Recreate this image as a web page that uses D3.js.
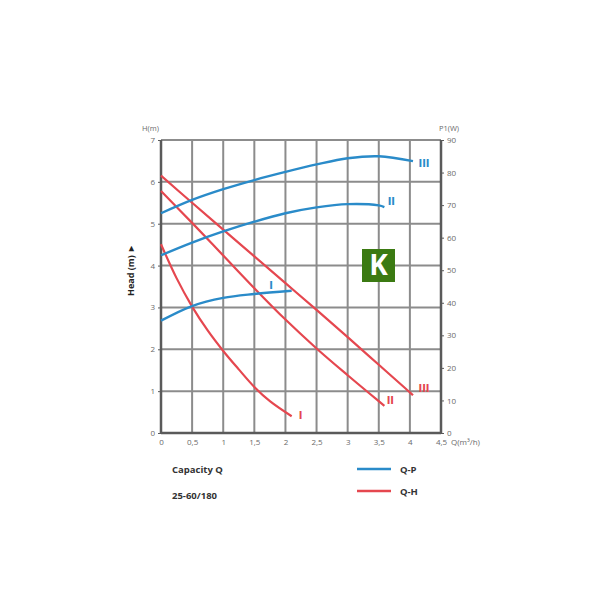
<!DOCTYPE html>
<html><head><meta charset="utf-8">
<script src="https://cdn.jsdelivr.net/npm/d3@7"></script>
<style>
html,body{margin:0;padding:0;background:#fff;}
text{font-family:"Open Sans",Lato,sans-serif;}
</style></head>
<body><svg id="c" width="600" height="600"></svg>
<script>
// ---- data ----
const qTicks = [0,0.5,1,1.5,2,2.5,3,3.5,4,4.5];
const qTickLabels = ["0","0,5","1","1,5","2","2,5","3","3,5","4","4,5"];
const hTicks = [0,1,2,3,4,5,6,7];
const pTicks = [0,10,20,30,40,50,60,70,80,90];

// Q-H curves (head, m)
const qhIQ = [0,0.25,0.5,0.75,1,1.25,1.5,1.75,2.1];
const qhIH = [4.51,3.70,3.02,2.45,1.96,1.52,1.10,0.76,0.40];
const qhIIQ = [0,0.5,1,1.5,2,2.5,3,3.5,3.59];
const qhIIH = [5.78,5.02,4.24,3.46,2.71,2.02,1.38,0.76,0.65];
const qhIIIQ = [0,0.5,1,1.5,2,2.5,3,3.5,4,4.05];
const qhIIIH = [6.15,5.50,4.86,4.22,3.58,2.94,2.29,1.63,0.97,0.90];

// Q-P curves (power, W)
const qpIQ = [0,0.5,1,1.5,2.1];
const qpIP = [34.5,39.0,41.5,42.7,43.7];
const qpIIQ = [0,0.5,1,1.5,2,2.5,3,3.5,3.59];
const qpIIP = [54.6,58.5,61.9,64.9,67.5,69.3,70.3,69.9,69.4];
const qpIIIQ = [0,0.5,1,1.5,2,2.5,3,3.5,4.05];
const qpIIIP = [67.5,71.6,74.9,77.7,80.2,82.5,84.4,85.0,83.5];

const speedNames = ["I","II","III"];
const legendNames = ["Q-P","Q-H"];

// ---- drawing ----
const BLUE = "#2a8bc9", RED = "#e5474f", GRID = "#8c8c8c", AX = "#5a5a5a", TXT = "#6a6a6a";
const svg = d3.select("#c");
const x = d3.scaleLinear().domain([0,4.5]).range([161,441]);
const yH = d3.scaleLinear().domain([0,7]).range([433,140]);
const yP = d3.scaleLinear().domain([0,90]).range([433,140]);

// grid
svg.append("g").selectAll("line").data(qTicks.filter(d=>d>0 && d<4.5)).join("line")
  .attr("x1",d=>x(d)).attr("x2",d=>x(d)).attr("y1",yH(7)).attr("y2",yH(0))
  .attr("stroke",GRID).attr("stroke-width",2);
svg.append("g").selectAll("line").data(hTicks.filter(d=>d>0)).join("line")
  .attr("x1",x(0)).attr("x2",x(4.5)).attr("y1",d=>yH(d)).attr("y2",d=>yH(d))
  .attr("stroke",GRID).attr("stroke-width",2);

// left axis
const left = svg.append("g").attr("transform",`translate(${x(0)},0)`)
  .call(d3.axisLeft(yH).tickValues(hTicks).tickSize(3).tickFormat(d3.format("d")));
// right axis
const right = svg.append("g").attr("transform",`translate(${x(4.5)},0)`)
  .call(d3.axisRight(yP).tickValues(pTicks).tickSize(3).tickFormat(d3.format("d")));
// bottom axis
const bottom = svg.append("g").attr("transform",`translate(0,${yH(0)})`)
  .call(d3.axisBottom(x).tickValues(qTicks).tickSize(0).tickFormat((d,i)=>qTickLabels[i]));
[left,right,bottom].forEach(g=>{
  g.select(".domain").attr("stroke",AX).attr("stroke-width",2.5);
  g.selectAll(".tick line").attr("stroke",AX).attr("stroke-width",1);
  g.selectAll("text").attr("fill",TXT).attr("font-size",8).style("font-family","'Open Sans',sans-serif");
});
bottom.selectAll("text").attr("dy","1.1em");
left.select(".domain").attr("d",`M0,${yH(7)}V${yH(0)}`);
right.select(".domain").attr("d",`M0,${yP(90)}V${yP(0)}`);
bottom.select(".domain").attr("d",`M${x(0)},0H${x(4.5)}`);

// axis units
svg.append("text").attr("x",x(0)-2).attr("y",yH(7)-9).attr("text-anchor","end")
  .attr("font-size",7.5).attr("fill",TXT).text("H(m)");
svg.append("text").attr("x",x(4.5)+8).attr("y",yH(7)-9).attr("text-anchor","middle")
  .attr("font-size",7.5).attr("fill",TXT).text("P1(W)");
svg.append("text").attr("x",x(4.5)+10).attr("y",yH(0)+12).attr("text-anchor","start")
  .attr("font-size",8).attr("fill",TXT).text("Q(m³/h)");

// y title
svg.append("text").attr("transform",`translate(134,270) rotate(-90)`)
  .attr("text-anchor","middle").attr("font-size",9).attr("font-weight","bold")
  .attr("fill","#222").text("Head (m) ►");

// curves
const lineH = d3.line().x(d=>x(d[0])).y(d=>yH(d[1])).curve(d3.curveCatmullRom.alpha(0.5));
const lineP = d3.line().x(d=>x(d[0])).y(d=>yP(d[1])).curve(d3.curveCatmullRom.alpha(0.5));
const zip = (a,b)=>a.map((v,i)=>[v,b[i]]);
const qhSets = [zip(qhIQ,qhIH),zip(qhIIQ,qhIIH),zip(qhIIIQ,qhIIIH)];
const qpSets = [zip(qpIQ,qpIP),zip(qpIIQ,qpIIP),zip(qpIIIQ,qpIIIP)];
qhSets.forEach(s=>svg.append("path").attr("d",lineH(s)).attr("fill","none")
  .attr("stroke",RED).attr("stroke-width",2.2));
qpSets.forEach(s=>svg.append("path").attr("d",lineP(s)).attr("fill","none")
  .attr("stroke",BLUE).attr("stroke-width",2.4));

// curve labels
const lab = (txt,px,py,col)=>svg.append("text").attr("x",px).attr("y",py)
  .attr("text-anchor","middle").attr("font-size",11).attr("font-weight","bold")
  .attr("fill",col).style("font-family","'DejaVu Sans Condensed','DejaVu Sans',sans-serif").text(txt);
{
  const e1 = qhSets[0][qhSets[0].length-1], e2 = qhSets[1][qhSets[1].length-1], e3 = qhSets[2][qhSets[2].length-1];
  lab(speedNames[0], x(e1[0])+9, yH(e1[1])+3, RED);
  lab(speedNames[1], x(e2[0])+6, yH(e2[1])-2, RED);
  lab(speedNames[2], x(e3[0])+11, yH(e3[1])-3, RED);
  const p2 = qpSets[1][qpSets[1].length-1], p3 = qpSets[2][qpSets[2].length-1];
  lab(speedNames[0], x(1.77), yH(3.44), BLUE);
  lab(speedNames[1], x(p2[0])+7, yP(p2[1])-2, BLUE);
  lab(speedNames[2], x(p3[0])+11, yP(p3[1])+6, BLUE);
}

// logo
svg.append("rect").attr("x",362).attr("y",249).attr("width",33).attr("height",33).attr("fill","#3b7a12");
svg.append("text").attr("x",378.5).attr("y",275).attr("text-anchor","middle")
  .attr("font-size",28).attr("font-weight","bold").attr("fill","#fff").text("K");

// bottom texts
svg.append("text").attr("x",172).attr("y",473).attr("font-size",9.5).attr("font-weight","bold")
  .attr("fill","#333").text("Capacity Q");
svg.append("text").attr("x",172).attr("y",499).attr("font-size",9.5).attr("font-weight","bold")
  .attr("fill","#333").text("25-60/180");

// legend
const legCols = [BLUE, RED];
legendNames.forEach((n,i)=>{
  const yy = 469 + i*22;
  svg.append("line").attr("x1",357).attr("x2",391).attr("y1",yy).attr("y2",yy)
    .attr("stroke",legCols[i]).attr("stroke-width",2.5);
  svg.append("text").attr("x",400).attr("y",yy+4).attr("font-size",9.5).attr("font-weight","bold")
    .attr("fill","#333").text(n);
});
</script></body></html>
